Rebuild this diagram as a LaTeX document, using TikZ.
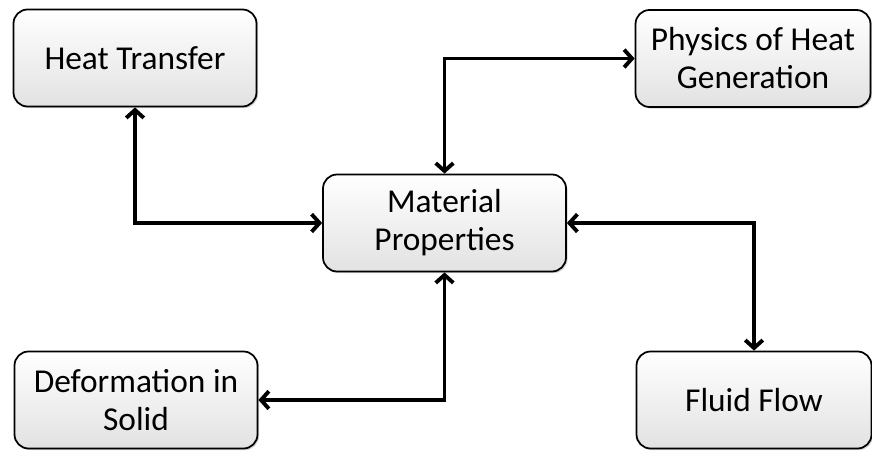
\documentclass[tikz,border=0pt]{standalone}
\usepackage{fontspec}
\setmainfont{Carlito}
\usetikzlibrary{arrows.meta,positioning,shadows}
\definecolor{bx}{HTML}{E2E2E2}
\tikzset{
  box/.style={draw=black,line width=1pt,rounded corners=8pt,top color=white,bottom color=bx,
    align=center,inner sep=2pt,minimum height=1.94cm,
    drop shadow={shadow xshift=0.9pt,shadow yshift=-0.9pt,opacity=0.35},
    font=\fontsize{19}{21.6}\selectfont},
  lbox/.style={box,minimum width=4.86cm},
  rbox/.style={box,minimum width=4.7cm},
  ar/.style={{Straight Barb[length=4.5pt,width=10pt]}-{Straight Barb[length=4.5pt,width=10pt]},line width=2.2pt,draw=black},
}
\begin{document}
\begin{tikzpicture}
\useasboundingbox (0,0) rectangle (17.44,9.06);
\node[lbox] (ht) at (2.70,7.90) {Heat Transfer};
\node[rbox] (ph) at (15.06,7.89) {Physics of Heat\\Generation};
\node[lbox] (mp) at (8.89,4.60) {Material\\Properties};
\node[lbox] (df) at (2.72,1.06) {Deformation in\\Solid};
\node[rbox] (ff) at (15.08,1.06) {Fluid Flow};
\draw[ar] (ht.south) |- (mp.west);
\draw[ar] (mp.north) |- (ph.west);
\draw[ar] (mp.east) -| (ff.north);
\draw[ar] (mp.south) |- (df.east);
\end{tikzpicture}
\end{document}
